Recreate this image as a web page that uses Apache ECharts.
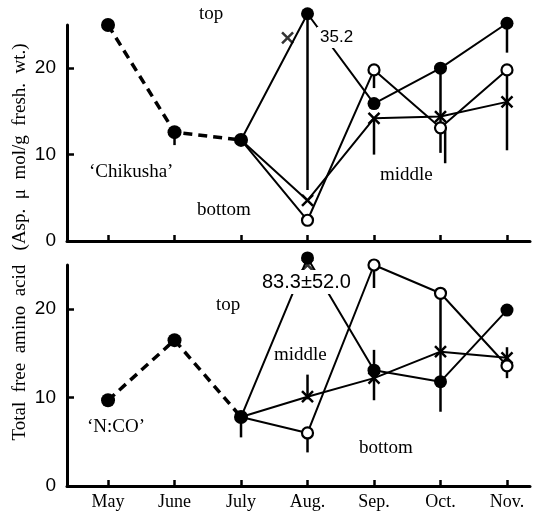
<!DOCTYPE html>
<html>
<head>
<meta charset="utf-8">
<script src="https://cdn.jsdelivr.net/npm/echarts@6/dist/echarts.min.js"></script>
<style>
  html, body { margin: 0; padding: 0; background: #fff; }
  #chart { width: 543px; height: 512px; }
</style>
</head>
<body>
<div id="chart"></div>
<script>
// month categories (x positions are their index)
const months = ['May', 'June', 'July', 'Aug.', 'Sep.', 'Oct.', 'Nov.'];
const yTicks = [0, 10, 20];

// 'Chikusha' (upper panel)
const chikEarly = [25, 12.6, 11.7];                 // May - July, dashed
const chikTop = [null, null, 11.7, 26.3, 15.9, 20.0, 25.2];
const chikMiddle = [null, null, 11.7, 4.7, 14.2, 14.4, 16.1];
const chikBottom = [null, null, 11.7, 2.4, 19.8, 13.1, 19.8];
const chikStray = [[2.7, 23.5]];                    // lone x mark near Aug.
const chikErr = [[1, 11.1, 12.6], [3, 5.9, 26.3], [4, 17.7, 19.8], [4, 10.0, 14.2],
                 [5, 10.2, 20.0], [5.07, 9.0, 13.1], [6, 21.8, 25.2], [6, 10.5, 19.8]];

// 'N:CO' (lower panel)
const ncoEarly = [9.7, 16.5, 7.8];
const ncoTop = [null, null, 7.8, 25.8, 13.1, 11.8, 19.9];
const ncoMiddle = [null, null, 7.8, 10.1, 12.2, 15.2, 14.5];
const ncoBottom = [null, null, 7.8, 6.0, 25.0, 21.8, 13.6];
const ncoStray = [[3, 25.0]];
const ncoErr = [[2, 5.5, 7.8], [3, 9.8, 12.6], [3, 3.8, 6.0], [4, 9.7, 15.4],
                [4, 22.4, 25.0], [5, 8.4, 21.8], [6, 12.2, 15.7]];

const serif = '"Liberation Serif", "DejaVu Serif", serif';
const sans = '"Liberation Sans", Arial, sans-serif';
const narrow = '"Liberation Sans Narrow", "Liberation Sans", sans-serif';
const xMark = 'path://M0,0L10,10M10,0L0,10';

function toPoints(arr, hideFirst) {
  const out = [];
  arr.forEach((v, i) => {
    if (v == null) return;
    const item = { value: [i, v] };
    if (hideFirst && out.length === 0) item.symbol = 'none';
    out.push(item);
  });
  return out;
}

function lineSeries(arr, idx, kind) {
  const base = {
    type: 'line', xAxisIndex: idx, yAxisIndex: idx, clip: false,
    data: toPoints(arr, kind !== 'early'),
    lineStyle: { color: '#000', width: 2 },
    symbolKeepAspect: true, z: 3
  };
  if (kind === 'early') {
    base.lineStyle = { color: '#000', width: 3.5, type: [9, 6] };
    base.symbol = 'circle'; base.symbolSize = 14;
    base.itemStyle = { color: '#000' };
  } else if (kind === 'top') {
    base.symbol = 'circle'; base.symbolSize = 13;
    base.itemStyle = { color: '#000' };
  } else if (kind === 'middle') {
    base.symbol = xMark; base.symbolSize = 11;
    base.itemStyle = { color: 'none', borderColor: '#000', borderWidth: 2.5 };
  } else {
    base.symbol = 'circle'; base.symbolSize = 11;
    base.itemStyle = { color: '#fff', borderColor: '#000', borderWidth: 2.2 };
  }
  return base;
}

function errSeries(data, idx) {
  return {
    type: 'custom', xAxisIndex: idx, yAxisIndex: idx, data: data, z: 2, clip: false,
    renderItem: function (params, api) {
      const x = api.value(0);
      const p1 = api.coord([x, api.value(1)]);
      const p2 = api.coord([x, api.value(2)]);
      return { type: 'line', shape: { x1: p1[0], y1: p1[1], x2: p2[0], y2: p2[1] },
               style: { stroke: '#000', lineWidth: 2.5 } };
    }
  };
}

function strayX(data, idx) {
  return {
    type: 'scatter', xAxisIndex: idx, yAxisIndex: idx, data: data, clip: false,
    symbol: xMark, symbolSize: 11, z: 3,
    itemStyle: { color: 'none', borderColor: '#000', borderWidth: 2.5 }
  };
}

function xAxis(idx, showLabels) {
  return {
    type: 'value', gridIndex: idx, min: -0.617, max: 6.346,
    axisLine: { onZero: false, lineStyle: { color: '#000', width: 3 } },
    axisTick: { inside: true, length: 6, customValues: [0, 1, 2, 3, 4, 5, 6],
                lineStyle: { color: '#000', width: 2.5 } },
    axisLabel: { show: showLabels, customValues: [0, 1, 2, 3, 4, 5, 6],
                 formatter: v => months[Math.round(v)], color: '#000',
                 fontFamily: serif, fontSize: 18, margin: 7 },
    splitLine: { show: false }
  };
}

function yAxis(idx) {
  return {
    type: 'value', gridIndex: idx, min: 0, max: 25,
    axisLine: { show: true, onZero: false, lineStyle: { color: '#000', width: 3 } },
    axisTick: { show: true, inside: true, length: 7, customValues: [10, 20],
                lineStyle: { color: '#000', width: 2.5 } },
    axisLabel: { customValues: yTicks, color: '#000', fontFamily: narrow,
                 fontSize: 19, margin: 11 },
    splitLine: { show: false }
  };
}

function txt(text, left, top, font, bg) {
  const el = { type: 'text', left: left, top: top, z: 10,
               style: { text: text, font: font, fill: '#000' } };
  if (bg) { el.style.backgroundColor = '#fff'; el.style.padding = [2, 3]; }
  return el;
}

const chart = echarts.init(document.getElementById('chart'));
chart.setOption({
  animation: false,
  backgroundColor: '#fff',
  grid: [
    { left: 67, right: 13, top: 25, height: 216 },
    { left: 67, right: 13, top: 265, height: 221 }
  ],
  xAxis: [xAxis(0, false), xAxis(1, true)],
  yAxis: [yAxis(0), yAxis(1)],
  graphic: [
    { type: 'text', x: 20, y: 242, rotation: Math.PI / 2, originX: 0, originY: 0, z: 10,
      style: { text: 'Total  free  amino  acid   (Asp.  \u03bc  mol/g  fresh.  wt.)',
               font: '19px ' + serif, fill: '#000', align: 'center', verticalAlign: 'middle' } },
    txt('top', 199, 5, '19px ' + serif),
    txt('35.2', 317, 27, '17px ' + sans, true),
    txt('middle', 380, 166, '19px ' + serif),
    txt('\u2018Chikusha\u2019', 89, 163, '19px ' + serif),
    txt('bottom', 197, 201, '19px ' + serif),
    txt('top', 216, 296, '19px ' + serif),
    txt('83.3\u00b152.0', 259, 270, '20px ' + sans, true),
    txt('middle', 274, 346, '19px ' + serif),
    txt('\u2018N:CO\u2019', 87, 418, '19px ' + serif),
    txt('bottom', 359, 439, '19px ' + serif)
  ],
  series: [
    errSeries(chikErr, 0),
    lineSeries(chikEarly, 0, 'early'),
    lineSeries(chikTop, 0, 'top'),
    lineSeries(chikMiddle, 0, 'middle'),
    lineSeries(chikBottom, 0, 'bottom'),
    strayX(chikStray, 0),
    errSeries(ncoErr, 1),
    lineSeries(ncoEarly, 1, 'early'),
    lineSeries(ncoTop, 1, 'top'),
    lineSeries(ncoMiddle, 1, 'middle'),
    lineSeries(ncoBottom, 1, 'bottom'),
    strayX(ncoStray, 1)
  ]
});
</script>
</body>
</html>
